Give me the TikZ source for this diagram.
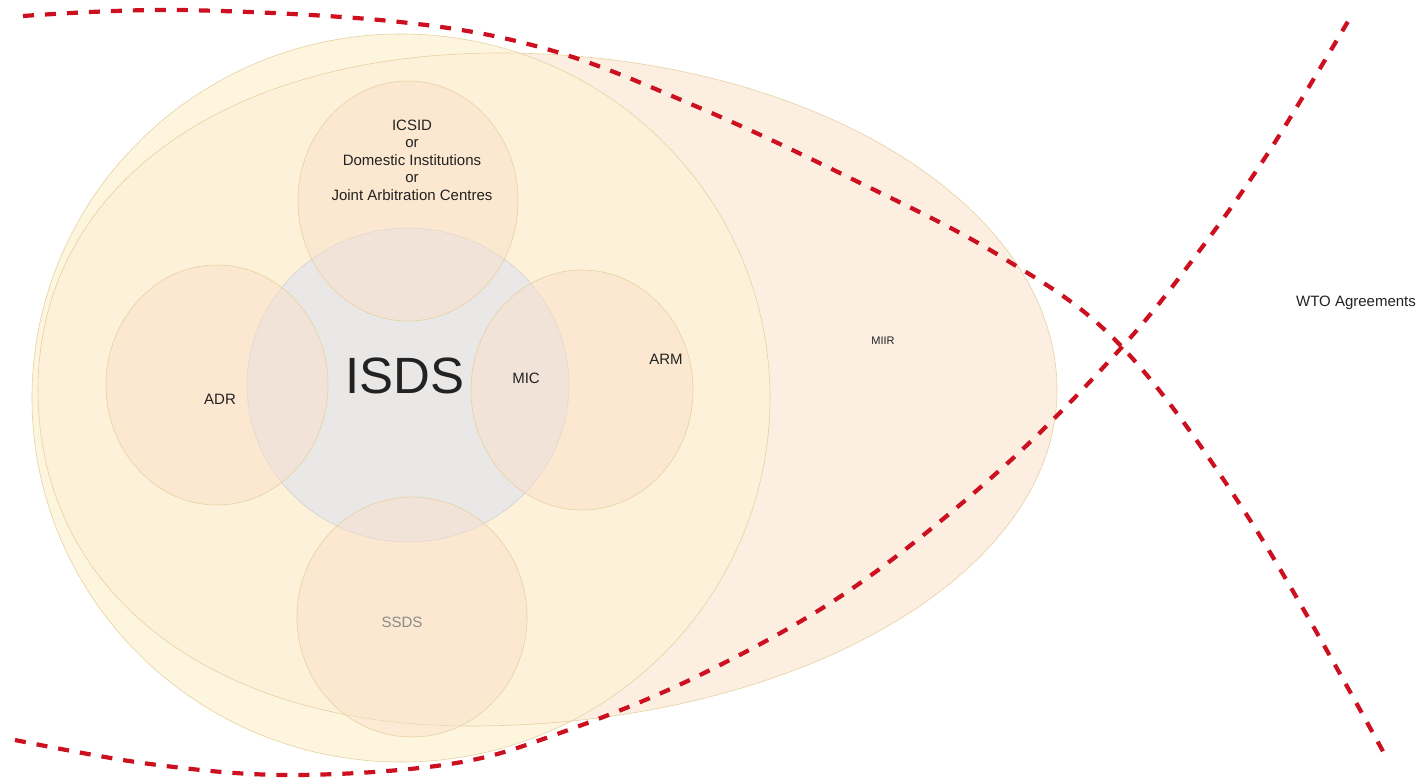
\documentclass[tikz,border=0pt]{standalone}
\usepackage{fontspec}
\setmainfont{Liberation Sans}
\usetikzlibrary{calc}

\definecolor{circfill}{HTML}{FEF2D7}
\definecolor{miirfill}{HTML}{FCEFE2}
\definecolor{ringline}{HTML}{E6D2A0}
\definecolor{isdsfill}{HTML}{E8E8E8}
\definecolor{isdsline}{HTML}{D2D2D2}
\definecolor{petalfill}{HTML}{FBDEC9}
\definecolor{wtored}{HTML}{CC1020}
\definecolor{lbltext}{HTML}{222222}
\definecolor{ssdstext}{HTML}{8A8A8A}

\begin{document}
\begin{tikzpicture}[x=1pt,y=-1pt,
    ring/.style={draw=ringline, line width=0.6pt},
    petal/.style={ring, fill=petalfill, fill opacity=0.45},
    lbl/.style={text=lbltext, inner sep=0pt, font=\fontsize{15}{17.5}\selectfont},
    boundary/.style={draw=wtored, line width=4.2pt, dash pattern=on 11pt off 11pt}]
  \useasboundingbox (0,0) rectangle (1424,779);
  % Define named coordinates
  \coordinate (outer) at (401,398);
  \coordinate (core) at (408,385);
  \coordinate (cross) at (1122,347);
  % The MIIR shell, then the outer circle over it
  \def\miirpath{(38,390)
    .. controls (38,188) and (223,53) .. (500,53)
    .. controls (808,53) and (1057,204) .. (1057,390)
    .. controls (1057,576) and (794,726) .. (470,726)
    .. controls (211,726) and (38,592) .. (38,390) -- cycle}
  \fill[miirfill] \miirpath;
  \fill[circfill, fill opacity=0.8] (outer) ellipse [x radius=369, y radius=364];
  \draw[ring] \miirpath;
  \draw[ring] (outer) ellipse [x radius=369, y radius=364];
  % ISDS core
  \draw[draw=isdsline, line width=0.6pt, fill=isdsfill, fill opacity=0.92] (core) ellipse [x radius=161, y radius=157];
  % Draw the four petals round the core
  \foreach \cx/\cy/\rx in {408/201/110, 217/385/111, 582/390/111, 412/617/115}
  {
    \draw[petal] (\cx,\cy) ellipse [x radius=\rx, y radius=120];
  }
  % Label the parts
  \node[lbl, align=center] (icsid) at (412,160) {ICSID\\or\\Domestic Institutions\\or\\Joint Arbitration Centres};
  \node[lbl] (adr) at (220,399) {ADR};
  \node[lbl, font=\fontsize{51}{58}\selectfont] (isds) at (405,376) {ISDS};
  \node[lbl] (mic) at (526,378) {MIC};
  \node[lbl] (arm) at (666,359) {ARM};
  \node[lbl, font=\fontsize{11}{13}\selectfont] (miir) at (883,341) {MIIR};
  \node[lbl, text=ssdstext] (ssds) at (402,622) {SSDS};
  \node[lbl] (wto) at (1356,303) {WTO Agreements};
  % The two WTO boundaries
  \draw[boundary] plot[smooth, tension=0.6] coordinates {(23,16) (180,10) (400,22) (550,50) (700,108) (850,178) (1000,256) (cross) (1250,520) (1385,755)};
  \draw[boundary] plot[smooth, tension=0.6] coordinates {(15,740) (150,764) (290,775) (450,764) (560,733) (700,675) (850,590) (1000,470) (cross) (1200,250) (1270,150) (1350,18)};
\end{tikzpicture}
\end{document}
